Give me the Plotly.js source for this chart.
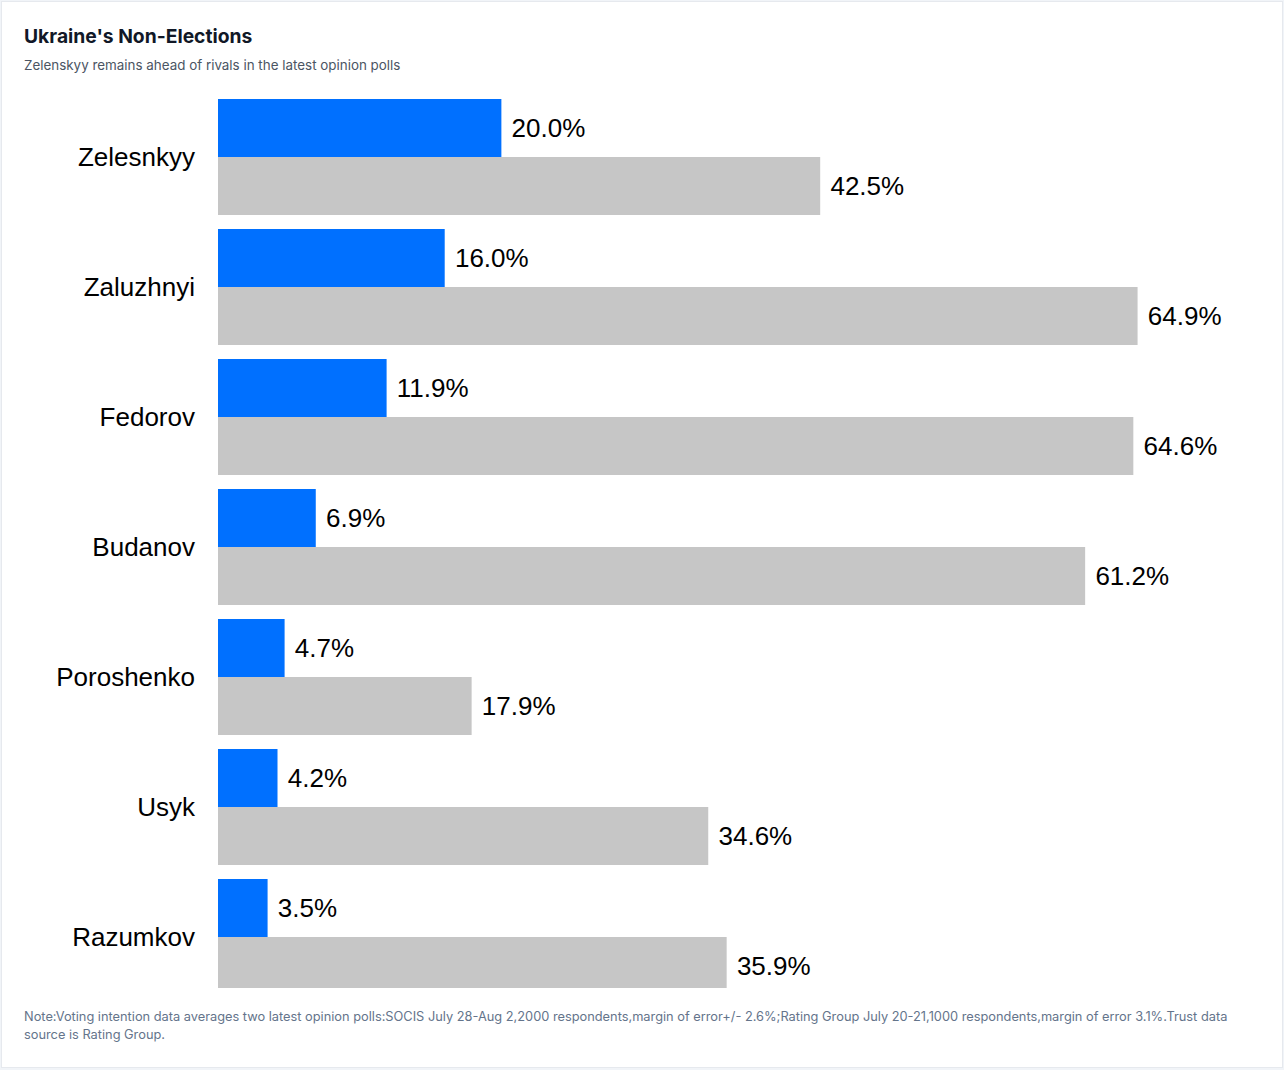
<!DOCTYPE html>
<html>
<head>
<meta charset="utf-8">
<script src="https://cdn.plot.ly/plotly-3.0.1.min.js"></script>
<style>
  html, body { margin: 0; padding: 0; background: #f1f4f8; }
  #card { position: absolute; left: 1px; top: 1px; width: 1280px; height: 1065px; background: #fff; border: 1px solid #e6e9ee; }
  #chart { width: 1280px; height: 1065px; }
</style>
</head>
<body>
<div id="card"><div id="chart"></div></div>
<script>
const candidates = ["Zelesnkyy", "Zaluzhnyi", "Fedorov", "Budanov", "Poroshenko", "Usyk", "Razumkov"];
const votingIntention = [20.0, 16.0, 11.9, 6.9, 4.7, 4.2, 3.5];
const trust = [42.5, 64.9, 64.6, 61.2, 17.9, 34.6, 35.9];

const titleText = "Ukraine's Non-Elections";
const subtitleText = "Zelenskyy remains ahead of rivals in the latest opinion polls";
const noteLine1 = "Note:Voting intention data averages two latest opinion polls:SOCIS July 28-Aug 2,2000 respondents,margin of error+/- 2.6%;Rating Group July 20-21,1000 respondents,margin of error 3.1%.Trust data";
const noteLine2 = "source is Rating Group.";

const labelFont = { family: "Liberation Sans, Arial, sans-serif", size: 26, color: "#000" };

const traces = [
  {
    type: "bar", orientation: "h", name: "Voting intention",
    x: votingIntention, y: candidates,
    marker: { color: "#0070ff" },
    text: votingIntention.map(v => "\u00a0" + v.toFixed(1) + "%"),
    textposition: "outside", textfont: labelFont, constraintext: "none",
    cliponaxis: false, hoverinfo: "x+y"
  },
  {
    type: "bar", orientation: "h", name: "Trust",
    x: trust, y: candidates,
    marker: { color: "#c6c6c6" },
    text: trust.map(v => "\u00a0" + v.toFixed(1) + "%"),
    textposition: "outside", textfont: labelFont, constraintext: "none",
    cliponaxis: false, hoverinfo: "x+y"
  }
];

const layout = {
  width: 1280, height: 1065,
  margin: { l: 216, r: 22, t: 90, b: 79 },
  paper_bgcolor: "#fff", plot_bgcolor: "#fff",
  barmode: "group", bargap: 0.108, bargroupgap: 0,
  showlegend: false,
  xaxis: { range: [0, 73.54], showgrid: false, zeroline: false, showticklabels: false, ticks: "", showline: false, fixedrange: true },
  yaxis: {
    type: "category", range: [6.392, -0.5], showgrid: false, zeroline: false, showline: false,
    ticks: "", ticklabelstandoff: 22,
    tickfont: { family: "Liberation Sans, Arial, sans-serif", size: 26, color: "#000" }
  },
  annotations: [
    { text: "<b>" + titleText + "</b>", xref: "paper", yref: "paper", x: -196 / 1042, y: 1 + 56 / 896, xanchor: "left", yanchor: "middle", showarrow: false,
      font: { family: "Inter, sans-serif", size: 19.3, color: "#111827" } },
    { text: subtitleText, xref: "paper", yref: "paper", x: -196 / 1042, y: 1 + 27 / 896, xanchor: "left", yanchor: "middle", showarrow: false,
      font: { family: "Inter, sans-serif", size: 13.4, color: "#4b5563" } },
    { text: noteLine1, xref: "paper", yref: "paper", x: -196 / 1042, y: -28 / 896, xanchor: "left", yanchor: "middle", showarrow: false, align: "left",
      font: { family: "Inter, sans-serif", size: 12.8, color: "#64748b" } },
    { text: noteLine2, xref: "paper", yref: "paper", x: -196 / 1042, y: -46 / 896, xanchor: "left", yanchor: "middle", showarrow: false, align: "left",
      font: { family: "Inter, sans-serif", size: 12.8, color: "#64748b" } }
  ]
};

Plotly.newPlot("chart", traces, layout, { displayModeBar: false, staticPlot: true });
</script>
</body>
</html>
